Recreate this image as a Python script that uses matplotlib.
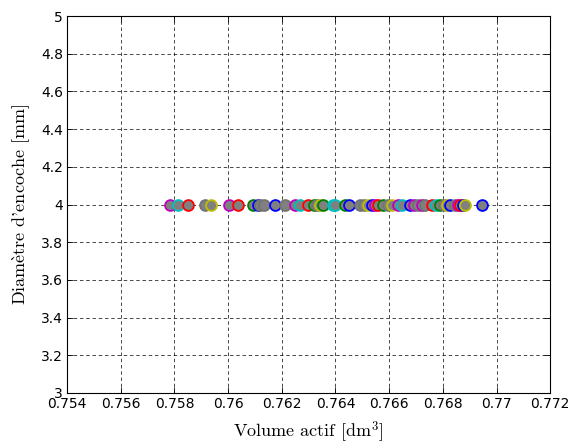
import numpy as np
import matplotlib
matplotlib.use("Agg")
import matplotlib.pyplot as plt
from matplotlib.ticker import FuncFormatter

# ---------- data ----------
volume = [0.75784, 0.75814, 0.75851, 0.75914, 0.75937, 0.76004, 0.76037,
          0.76093, 0.76112, 0.76119, 0.76134, 0.76175, 0.76212, 0.76250,
          0.76268, 0.76298, 0.76320, 0.76332, 0.76343, 0.76354, 0.76391,
          0.76399, 0.76436, 0.76451, 0.76492, 0.76507, 0.76522, 0.76537,
          0.76548, 0.76559, 0.76578, 0.76596, 0.76611, 0.76634, 0.76648,
          0.76678, 0.76693, 0.76708, 0.76723, 0.76734, 0.76760, 0.76775,
          0.76790, 0.76805, 0.76816, 0.76827, 0.76846, 0.76857, 0.76865,
          0.76876, 0.76883, 0.76947]
diametre = [4.0] * len(volume)
edge = list("mcrkymrgbkkbkmcrgkygccgbkkybmrgkymcbmkmkrcgkybkmrbyb")

# ---------- style ----------
C = {"b": (0, 0, 1), "g": (0, 0.5, 0), "r": (1, 0, 0), "c": (0, 0.75, 0.75),
     "m": (0.75, 0, 0.75), "y": (0.75, 0.75, 0), "k": (0.45, 0.45, 0.45)}
plt.rcParams.update({"font.family": ["DejaVu Sans"], "font.size": 10,
                     "mathtext.fontset": "cm"})

fig = plt.figure(figsize=(5.78, 4.48), dpi=100)
ax = fig.add_axes([0.116, 0.123, 0.836, 0.841])

for v, d, e in zip(volume, diametre, edge):
    ax.plot(v, d, "o", ms=7.8, mfc=(0.5, 0.5, 0.5), mec=C[e], mew=1.3,
            zorder=3)

ax.set_xlim(0.754, 0.772)
ax.set_ylim(3, 5)
ax.set_xticks(np.arange(0.754, 0.7721, 0.002))
ax.set_yticks(np.arange(3, 5.01, 0.2))
fmt = FuncFormatter(lambda x, p: f"{round(x, 6):g}")
ax.xaxis.set_major_formatter(fmt)
ax.yaxis.set_major_formatter(fmt)
ax.tick_params(direction="in", top=True, right=True, length=4, width=0.6,
               labelsize=10, pad=3)
ax.grid(True, color="black", ls=(0, (5, 4)), lw=0.5)
for s in ax.spines.values():
    s.set_linewidth(0.8)

lab = dict(family=["cmr10", "DejaVu Serif"], fontsize=13)
ax.set_xlabel(r"Volume actif [dm$^3$]", labelpad=6, **lab)
ax.set_ylabel(r"Diam$\mathrm{\grave{e}}$tre d'encoche [mm]", labelpad=6, **lab)

fig.savefig("out.png", dpi=100)
